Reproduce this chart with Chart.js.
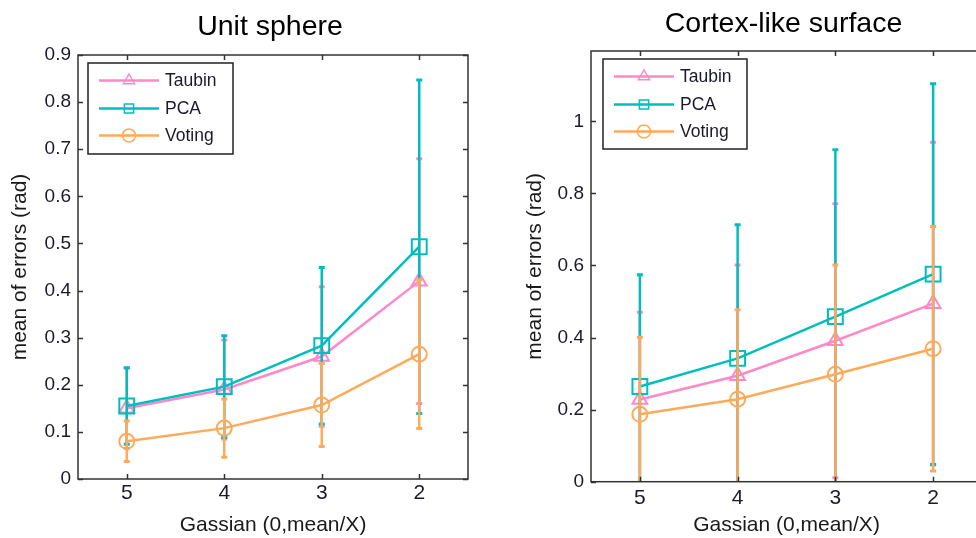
<!DOCTYPE html>
<html>
<head>
<meta charset="utf-8">
<script src="https://cdn.jsdelivr.net/npm/chart.js@4.4.1/dist/chart.umd.min.js"></script>
<style>
html, body { margin: 0; padding: 0; background: #fff; overflow: hidden; width: 976px; height: 538px; }
#sphere { position: absolute; left: 0; top: 0; }
#cortex { position: absolute; left: 490px; top: 0; }
</style>
</head>
<body>
<canvas id="sphere" width="490" height="538"></canvas>
<canvas id="cortex" width="520" height="538"></canvas>
<script>
// noise levels on the x axis (Gaussian 0, mean/X)
var xLevels = [5, 4, 3, 2];
var xTickLabels = ['5', '4', '3', '2'];
var seriesNames = ['Taubin', 'PCA', 'Voting'];

// Unit sphere: means and standard deviations
var sphereTaubin = [0.150, 0.190, 0.260, 0.420];
var sphereTaubinStd = [0.085, 0.105, 0.148, 0.260];
var spherePCA = [0.155, 0.196, 0.283, 0.493];
var spherePCAStd = [0.081, 0.108, 0.166, 0.354];
var sphereVoting = [0.080, 0.108, 0.157, 0.265];
var sphereVotingStd = [0.043, 0.062, 0.088, 0.158];
var sphereTicks = [0, 0.1, 0.2, 0.3, 0.4, 0.5, 0.6, 0.7, 0.8, 0.9];

// Cortex-like surface
var cortexTaubin = [0.228, 0.294, 0.391, 0.494];
var cortexTaubinStd = [0.242, 0.307, 0.380, 0.448];
var cortexPCA = [0.264, 0.342, 0.458, 0.576];
var cortexPCAStd = [0.310, 0.371, 0.463, 0.528];
var cortexVoting = [0.187, 0.229, 0.298, 0.369];
var cortexVotingStd = [0.214, 0.248, 0.303, 0.339];
var cortexTicks = [0, 0.2, 0.4, 0.6, 0.8, 1];

var colors = ['rgb(255,136,200)', 'rgb(0,190,190)', 'rgb(255,170,90)'];
var markers = ['triangle', 'rect', 'circle'];
var markerRadius = [8.5, 10.5, 7.5];
var FONT = '"Liberation Sans", Arial, sans-serif';

// @desc draws error bars under each dataset, using the chart scales
var errorBarPlugin = {
	id: 'errorBars',
	beforeDatasetDraw: function(chart, args) {
		var ds = chart.data.datasets[args.index];
		if (!ds.errors) return;
		var ctx = chart.ctx, x = chart.scales.x, y = chart.scales.y, a = chart.chartArea;
		ctx.save();
		ctx.beginPath();
		ctx.rect(a.left, a.top, a.right - a.left, a.bottom - a.top);
		ctx.clip();
		ctx.strokeStyle = ds.borderColor;
		ds.data.forEach(function(p, i) {
			var px = x.getPixelForValue(p.x);
			var top = y.getPixelForValue(p.y + ds.errors[i]);
			var bot = y.getPixelForValue(p.y - ds.errors[i]);
			ctx.lineWidth = 2.5;
			ctx.beginPath();
			ctx.moveTo(px, top);
			ctx.lineTo(px, bot);
			ctx.stroke();
			ctx.lineWidth = 3;
			ctx.beginPath();
			ctx.moveTo(px - 3, top); ctx.lineTo(px + 3, top);
			ctx.moveTo(px - 3, bot); ctx.lineTo(px + 3, bot);
			ctx.stroke();
		});
		ctx.restore();
	}
};

// @desc matlab style box with inward ticks on all four sides, plus title over the plot
var framePlugin = {
	id: 'frame',
	afterDatasetsDraw: function(chart, args, opts) {
		var ctx = chart.ctx, a = chart.chartArea, x = chart.scales.x, y = chart.scales.y;
		ctx.save();
		ctx.strokeStyle = '#333';
		ctx.lineWidth = 1.5;
		ctx.strokeRect(a.left, a.top, a.right - a.left, a.bottom - a.top);
		ctx.beginPath();
		x.ticks.forEach(function(t) {
			var px = Math.round(x.getPixelForValue(t.value)) + 0.5;
			ctx.moveTo(px, a.bottom); ctx.lineTo(px, a.bottom - 5);
			ctx.moveTo(px, a.top); ctx.lineTo(px, a.top + 5);
		});
		y.ticks.forEach(function(t) {
			var py = Math.round(y.getPixelForValue(t.value)) + 0.5;
			ctx.moveTo(a.left, py); ctx.lineTo(a.left + 5, py);
			ctx.moveTo(a.right, py); ctx.lineTo(a.right - 5, py);
		});
		ctx.stroke();

		ctx.fillStyle = '#000';
		ctx.font = '28.5px ' + FONT;
		ctx.textAlign = 'center';
		ctx.textBaseline = 'middle';
		ctx.fillText(opts.title, (a.left + a.right) / 2 + opts.titleShift, opts.titleY);
		ctx.restore();
	}
};

function drawMarker(ctx, style, cx, cy, r) {
	ctx.beginPath();
	if (style === 'triangle') {
		ctx.moveTo(cx, cy - r);
		ctx.lineTo(cx + r * 0.866, cy + r * 0.5);
		ctx.lineTo(cx - r * 0.866, cy + r * 0.5);
		ctx.closePath();
	} else if (style === 'rect') {
		ctx.rect(cx - r * 0.707, cy - r * 0.707, r * 1.414, r * 1.414);
	} else {
		ctx.arc(cx, cy, r, 0, Math.PI * 2);
	}
	ctx.stroke();
}

// @desc boxed legend with line + marker samples
var boxLegendPlugin = {
	id: 'boxLegend',
	afterDraw: function(chart, args, opts) {
		var ctx = chart.ctx, b = opts.box;
		ctx.save();
		ctx.fillStyle = '#fff';
		ctx.fillRect(b.x, b.y, b.w, b.h);
		ctx.strokeStyle = '#222';
		ctx.lineWidth = 1.5;
		ctx.strokeRect(b.x, b.y, b.w, b.h);
		var rows = [17.5, 45.5, 72.5];
		seriesNames.forEach(function(name, i) {
			var ry = b.y + rows[i];
			ctx.strokeStyle = colors[i];
			ctx.lineWidth = 2.5;
			ctx.beginPath();
			ctx.moveTo(b.x + 11, ry); ctx.lineTo(b.x + 71, ry);
			ctx.stroke();
			ctx.lineWidth = 1.5;
			drawMarker(ctx, markers[i], b.x + 41, ry, 6.5);
			ctx.fillStyle = '#1a1a2a';
			ctx.font = '17.5px ' + FONT;
			ctx.textBaseline = 'middle';
			ctx.textAlign = 'left';
			ctx.fillText(name, b.x + 77, ry + 1);
		});
		ctx.restore();
	}
};

var makeErrorChart = function(id, cfg) {
	var means = [cfg.taubin, cfg.pca, cfg.voting];
	var stds = [cfg.taubinStd, cfg.pcaStd, cfg.votingStd];
	var datasets = seriesNames.map(function(name, i) {
		return {
			label: name,
			data: xLevels.map(function(x, j) { return { x: x, y: means[i][j] }; }),
			errors: stds[i],
			borderColor: colors[i],
			backgroundColor: 'rgba(0,0,0,0)',
			borderWidth: 2.5,
			pointStyle: markers[i],
			pointRadius: markerRadius[i],
			pointBorderWidth: 2,
			pointBorderColor: colors[i],
			pointBackgroundColor: 'rgba(0,0,0,0)',
			tension: 0,
			fill: false,
			order: 2 - i
		};
	});
	return new Chart(document.getElementById(id), {
		type: 'line',
		data: { datasets: datasets },
		plugins: [errorBarPlugin, framePlugin, boxLegendPlugin],
		options: {
			responsive: false,
			animation: false,
			layout: { padding: { left: 0, right: cfg.padRight, top: cfg.padTop, bottom: 0 } },
			plugins: {
				legend: { display: false },
				tooltip: { enabled: false },
				title: { display: false },
				frame: { title: cfg.title, titleY: cfg.titleY, titleShift: cfg.titleShift },
				boxLegend: { box: cfg.legendBox }
			},
			scales: {
				x: {
					type: 'linear',
					min: 1.5,
					max: 5.5,
					reverse: true,
					afterBuildTicks: function(s) {
						s.ticks = xLevels.map(function(v) { return { value: v }; });
					},
					afterFit: function(s) { s.height = cfg.xHeight; },
					grid: { display: false, drawTicks: false, tickLength: 0 },
					border: { display: false },
					ticks: {
						padding: cfg.xTickPad,
						color: '#1a1a2a',
						font: { family: FONT, size: 21 },
						maxRotation: 0,
						callback: function(v, i) { return xTickLabels[i]; }
					},
					title: {
						display: true,
						text: 'Gassian (0,mean/X)',
						color: '#1a1a1a',
						font: { family: FONT, size: 21 },
						padding: { top: 0, bottom: 0 }
					}
				},
				y: {
					min: 0,
					max: cfg.yMax,
					afterBuildTicks: function(s) {
						s.ticks = cfg.yTicks.map(function(v) { return { value: v }; });
					},
					afterFit: function(s) { s.width = cfg.yWidth; },
					grid: { display: false, drawTicks: false, tickLength: 0 },
					border: { display: false },
					ticks: {
						padding: 7,
						color: '#1a1a2a',
						font: { family: FONT, size: 19 },
						callback: function(v) { return String(v); }
					},
					title: {
						display: true,
						text: 'mean of errors (rad)',
						color: '#1a1a1a',
						font: { family: FONT, size: 21 },
						padding: { top: cfg.yTitlePad, bottom: 0 }
					}
				}
			}
		}
	});
};

makeErrorChart('sphere', {
	title: 'Unit sphere', titleY: 27, titleShift: -3,
	taubin: sphereTaubin, taubinStd: sphereTaubinStd,
	pca: spherePCA, pcaStd: spherePCAStd,
	voting: sphereVoting, votingStd: sphereVotingStd,
	yMax: 0.9, yTicks: sphereTicks,
	padTop: 55, padRight: 22, yWidth: 78, xHeight: 59, xTickPad: 2, yTitlePad: 8,
	legendBox: { x: 88, y: 63, w: 145, h: 91 }
});

makeErrorChart('cortex', {
	title: 'Cortex-like surface', titleY: 24, titleShift: -3,
	taubin: cortexTaubin, taubinStd: cortexTaubinStd,
	pca: cortexPCA, pcaStd: cortexPCAStd,
	voting: cortexVoting, votingStd: cortexVotingStd,
	yMax: 1.195, yTicks: cortexTicks,
	padTop: 51, padRight: 28, yWidth: 101, xHeight: 56.3, xTickPad: 4, yTitlePad: 33,
	legendBox: { x: 113, y: 59, w: 144, h: 90 }
});
</script>
</body>
</html>
